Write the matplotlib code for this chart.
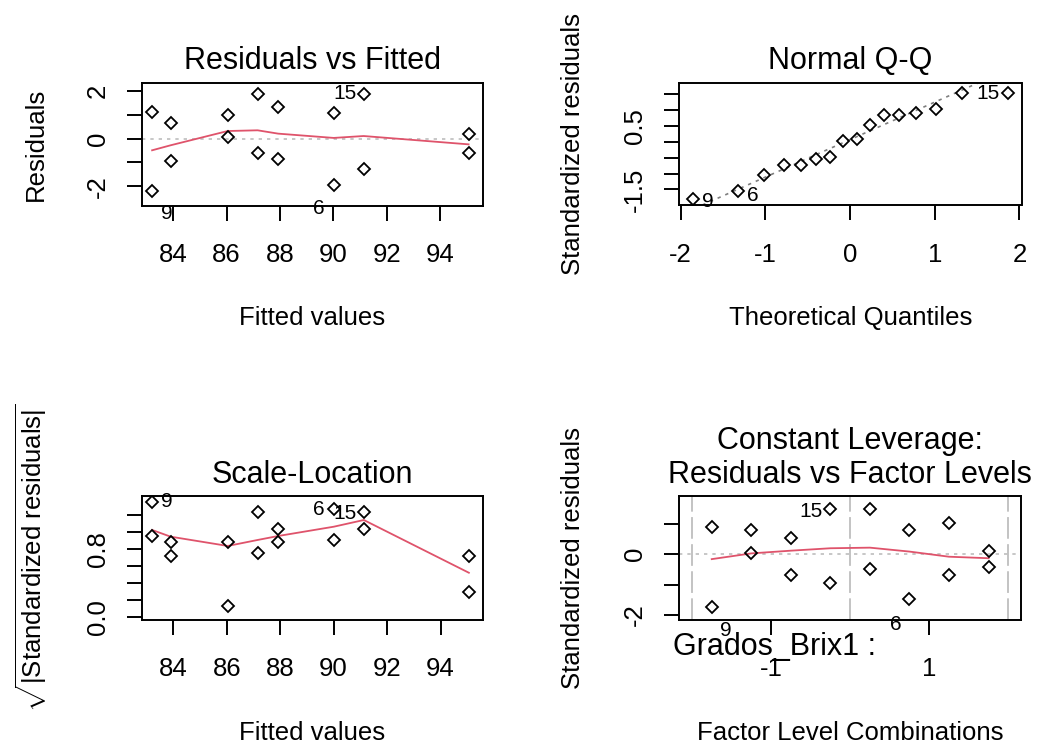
import matplotlib
matplotlib.use("Agg")
import matplotlib.pyplot as plt
import numpy as np

plt.rcParams['font.family'] = ['Liberation Sans', 'DejaVu Sans']
plt.rcParams['mathtext.fontset'] = 'custom'
plt.rcParams['mathtext.rm'] = 'Liberation Sans'
plt.rcParams['mathtext.it'] = 'Liberation Sans:italic'
plt.rcParams['axes.unicode_minus'] = False

# --- data ---
# residuals vs fitted
fitted = [83.21, 83.21, 83.90, 83.90, 86.04, 86.04, 87.16, 87.16,
          87.93, 87.93, 90.01, 90.01, 91.13, 91.13, 95.06, 95.06]
resid = [1.13, -2.20, 0.66, -0.94, 0.98, 0.07, 1.89, -0.61,
         1.33, -0.87, 1.08, -1.96, 1.89, -1.29, 0.18, -0.61]
fit_levels = [83.21, 83.90, 86.04, 87.16, 87.93, 90.01, 91.13, 95.06]
smooth_resid = [-0.49, -0.28, 0.32, 0.35, 0.21, 0.03, 0.11, -0.24]
resid_ids = {1: "9", 11: "6", 12: "15"}

# normal q-q
theo_q = [-1.86, -1.32, -1.01, -0.78, -0.58, -0.40, -0.24, -0.08,
          0.08, 0.24, 0.40, 0.58, 0.78, 1.01, 1.32, 1.86]
std_sorted = [-1.79, -1.55, -1.05, -0.73, -0.73, -0.54, -0.49, 0.02,
              0.08, 0.54, 0.85, 0.85, 0.89, 1.02, 1.52, 1.52]
qq_ids = {0: "9", 1: "6", 15: "15"}

# scale-location
sqrt_std = [1.361, 0.955, 0.888, 0.718, 0.888, 0.130, 1.243, 0.750,
            1.034, 0.888, 1.271, 0.908, 1.243, 1.034, 0.718, 0.296]
smooth_sl = [1.026, 0.947, 0.837, 0.908, 0.955, 1.065, 1.144, 0.52]
sl_ids = {0: "9", 10: "6", 12: "15"}

# constant leverage
fac_pos = [0, 0, 1, 1, 2, 2, 3, 3, 4, 4, 5, 5, 6, 6, 7, 7]
fac_std = [0.894, -1.735, 0.805, 0.033, 0.55, -0.695, 1.49, -0.96,
           1.49, -0.487, 0.805, -1.48, 1.03, -0.695, 0.11, -0.43]
fac_levels = [0, 1, 2, 3, 4, 5, 6, 7]
smooth_fac = [-0.16, 0.03, 0.12, 0.20, 0.22, 0.09, -0.08, -0.13]
fac_bounds = [-0.5, 3.5, 7.5]
fac_ticks = [1.5, 5.5]
fac_labels = ["-1", "1"]
fac_ids = {1: "9", 11: "6", 6: "15"}

RED = '#DF536B'
GRAY = '#BEBEBE'
TICK = 18.5
TITLE = 22

fig = plt.figure(figsize=(10.42, 7.46), dpi=100)
W, H = 1042, 746


def box(l, t, r, b):
    return fig.add_axes([l / W, 1 - b / H, (r - l) / W, (b - t) / H])


def style(ax, title, xlabel, ylabel, ylab_x):
    for s in ax.spines.values():
        s.set_linewidth(1.4)
    ax.tick_params(length=11, width=1.4, labelsize=TICK, direction='out')
    ax.tick_params(axis='x', pad=16)
    ax.tick_params(axis='y', pad=12)
    for lab in ax.get_yticklabels():
        lab.set_rotation(90)
        lab.set_va('center')
    ax.set_title(title, fontsize=TITLE, pad=9.7)
    ax.set_xlabel(xlabel, fontsize=TICK)
    ax.xaxis.label.set_va('center')
    ax.xaxis.set_label_coords(0.5, -0.91)
    ax.set_ylabel(ylabel, fontsize=TICK)
    ax.yaxis.label.set_va('center')
    ax.yaxis.set_label_coords(ylab_x, 0.5)


def points(ax, x, y):
    ax.plot(x, y, 'D', mfc='none', mec='black', ms=6, mew=1.3, zorder=3)


def ids(ax, x, y, labels, offsets):
    for i, txt in labels.items():
        ax.annotate(txt, (x[i], y[i]), xytext=offsets[i], textcoords='offset points',
                    ha='center', va='center', fontsize=15, annotation_clip=False)


# panel 1
ax1 = box(141.7, 82.7, 483, 206)
ax1.axhline(0, color=GRAY, lw=1.2, ls=(0, (2, 3)))
ax1.plot(fit_levels, smooth_resid, color=RED, lw=1.3)
points(ax1, fitted, resid)
ids(ax1, fitted, resid, resid_ids, {1: (10.8, -16), 11: (-11, -16.5), 12: (-13.2, 0)})
ax1.set_xlim(82.82, 95.6)
ax1.set_ylim(-2.83, 2.35)
ax1.set_xticks([84, 86, 88, 90, 92, 94])
ax1.set_yticks([-2, -1, 0, 1, 2], ['-2', '', '0', '', '2'])
style(ax1, "Residuals vs Fitted", "Fitted values", "Residuals", -0.31)

# panel 2
ax2 = box(679.3, 82.7, 1021.5, 205)
q1, q3 = np.percentile(std_sorted, [25, 75])
slope = (q3 - q1) / (2 * 0.6745)
ax2.axline((0, (q1 + q3) / 2), slope=slope, color='#7F7F7F', lw=1.2, ls=(0, (2, 3)))
points(ax2, theo_q, std_sorted)
ids(ax2, theo_q, std_sorted, qq_ids, {0: (10.8, -2.4), 1: (10.4, -3.1), 15: (-14.4, 0)})
ax2.set_xlim(-2.016, 2.025)
ax2.set_ylim(-1.99, 1.855)
ax2.set_xticks([-2, -1, 0, 1, 2])
ax2.set_yticks([-1.5, -1.0, -0.5, 0, 0.5, 1.0, 1.5], ['-1.5', '', '', '', '0.5', '', ''])
style(ax2, "Normal Q-Q", "Theoretical Quantiles", "Standardized residuals", -0.31)
ax2.xaxis.set_label_coords(0.5, -0.924)

# panel 3
ax3 = box(141.7, 496, 483.3, 620)
ax3.plot(fit_levels, smooth_sl, color=RED, lw=1.3)
points(ax3, fitted, sqrt_std)
ids(ax3, fitted, sqrt_std, sl_ids, {0: (10.8, 0), 10: (-10.8, 0), 12: (-13.2, -1.2)})
ax3.set_xlim(82.82, 95.6)
ax3.set_ylim(-0.039, 1.428)
ax3.set_xticks([84, 86, 88, 90, 92, 94])
ax3.set_yticks([0, 0.2, 0.4, 0.6, 0.8, 1.0, 1.2], ['0.0', '', '', '', '0.8', '', ''])
style(ax3, "Scale-Location", "Fitted values",
      r'$\sqrt{|\mathrm{Standardized\ residuals}|}$', -0.325)

# panel 4
ax4 = box(679.3, 496, 1021, 620)
for b in fac_bounds:
    ax4.axvline(b, color=GRAY, lw=1.3, ls=(0, (12, 3)))
ax4.axhline(0, color=GRAY, lw=1.2, ls=(0, (2, 3)))
ax4.plot(fac_levels, smooth_fac, color=RED, lw=1.3)
points(ax4, fac_pos, fac_std)
ids(ax4, fac_pos, fac_std, fac_ids, {1: (10.3, -16.8), 11: (-9.6, -18.7), 6: (-13.7, -1.7)})
ax4.set_xlim(-0.82, 7.82)
ax4.set_ylim(-2.175, 1.93)
ax4.set_xticks(fac_ticks, fac_labels)
ax4.set_yticks([-2, -1, 0, 1], ['-2', '', '0', ''])
style(ax4, "Residuals vs Factor Levels", "Factor Level Combinations",
      "Standardized residuals", -0.31)
ax4.text(0.5, 1 + (496 - 449) / 124, "Constant Leverage:", transform=ax4.transAxes,
         ha='center', va='baseline', fontsize=TITLE)
ax4.text(-0.0176, -0.28, "Grados_Brix1 :", transform=ax4.transAxes,
         ha='left', va='baseline', fontsize=TITLE)

fig.savefig("out.png", dpi=100, facecolor='white')
